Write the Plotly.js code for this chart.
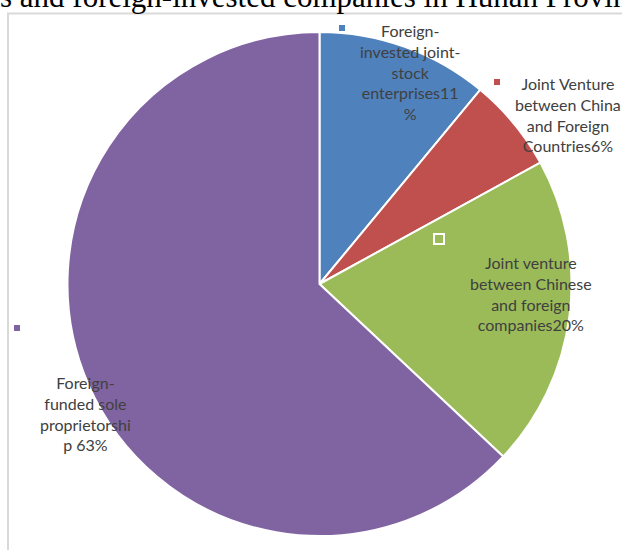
<!DOCTYPE html>
<html>
<head>
<meta charset="utf-8">
<script src="https://cdn.plot.ly/plotly-3.0.1.min.js"></script>
<style>html,body{margin:0;padding:0;background:#fff;}#chart{width:622px;height:550px;}</style>
</head>
<body>
<div id="chart"></div>
<script>
// ---- data ----
const categories = [
  "Foreign-invested joint-stock enterprises",
  "Joint Venture between China and Foreign Countries",
  "Joint venture between Chinese and foreign companies",
  "Foreign-funded sole proprietorship"
];
const values = [11, 6, 20, 63];
const labelTexts = [
  "Foreign-<br>invested joint-<br>stock<br>enterprises11<br>%",
  "Joint Venture<br>between China<br>and Foreign<br>Countries6%",
  "Joint venture<br>between Chinese<br>and foreign<br>companies20%",
  "Foreign-<br>funded sole<br>proprietorshi<br>p 63%"
];
const colors = ["#4F81BD", "#C0504D", "#9BBB59", "#8064A2"];
const titleText = "s and foreign-invested companies in Hunan Province";

// ---- layout helpers (pixel -> paper) ----
const W = 622, H = 550;
const px = x => x / W;
const py = y => 1 - y / H;

const labelPos = [[410, 72], [568, 114], [531, 293], [85, 413]];
const keyPos = [[342, 28], [497, 82], [439, 239], [17, 328]];

const annotations = labelTexts.map((t, i) => ({
  text: t, xref: "paper", yref: "paper",
  x: px(labelPos[i][0]), y: py(labelPos[i][1]),
  xanchor: "center", yanchor: "middle", align: "center",
  showarrow: false,
  font: {family: "Lato, 'Open Sans', sans-serif", size: 16, color: "#404040"}
}));
annotations.push({
  text: titleText, xref: "paper", yref: "paper",
  x: px(-2), y: py(-23), xanchor: "left", yanchor: "top",
  showarrow: false,
  font: {family: "'Liberation Serif', 'Times New Roman', serif", size: 31, color: "#000"}
});

const shapes = [{
  type: "rect", xref: "paper", yref: "paper",
  x0: px(8), y0: py(13.5), x1: 1.1, y1: -0.1,
  line: {color: "#d9d9d9", width: 2}, fillcolor: "rgba(0,0,0,0)", layer: "below"
}];
keyPos.forEach((k, i) => {
  const s = i === 2 ? 5 : 3;
  shapes.push({
    type: "rect", xref: "paper", yref: "paper",
    x0: px(k[0] - s), x1: px(k[0] + s), y0: py(k[1] + s), y1: py(k[1] - s),
    fillcolor: colors[i],
    line: {color: i === 2 ? "#ffffff" : colors[i], width: i === 2 ? 2 : 0},
    layer: "above"
  });
});

const trace = {
  type: "pie",
  labels: categories,
  values: values,
  sort: false,
  direction: "clockwise",
  rotation: 0,
  textinfo: "none",
  hoverinfo: "label+percent",
  marker: {colors: colors, line: {color: "#ffffff", width: 2}},
  domain: {x: [px(66), px(573)], y: [py(536), py(32)]},
  showlegend: false
};

const layout = {
  width: W, height: H,
  margin: {l: 0, r: 0, t: 0, b: 0},
  paper_bgcolor: "#ffffff",
  showlegend: false,
  annotations: annotations,
  shapes: shapes
};

Plotly.newPlot("chart", [trace], layout, {displayModeBar: false, staticPlot: true});
</script>
</body>
</html>
